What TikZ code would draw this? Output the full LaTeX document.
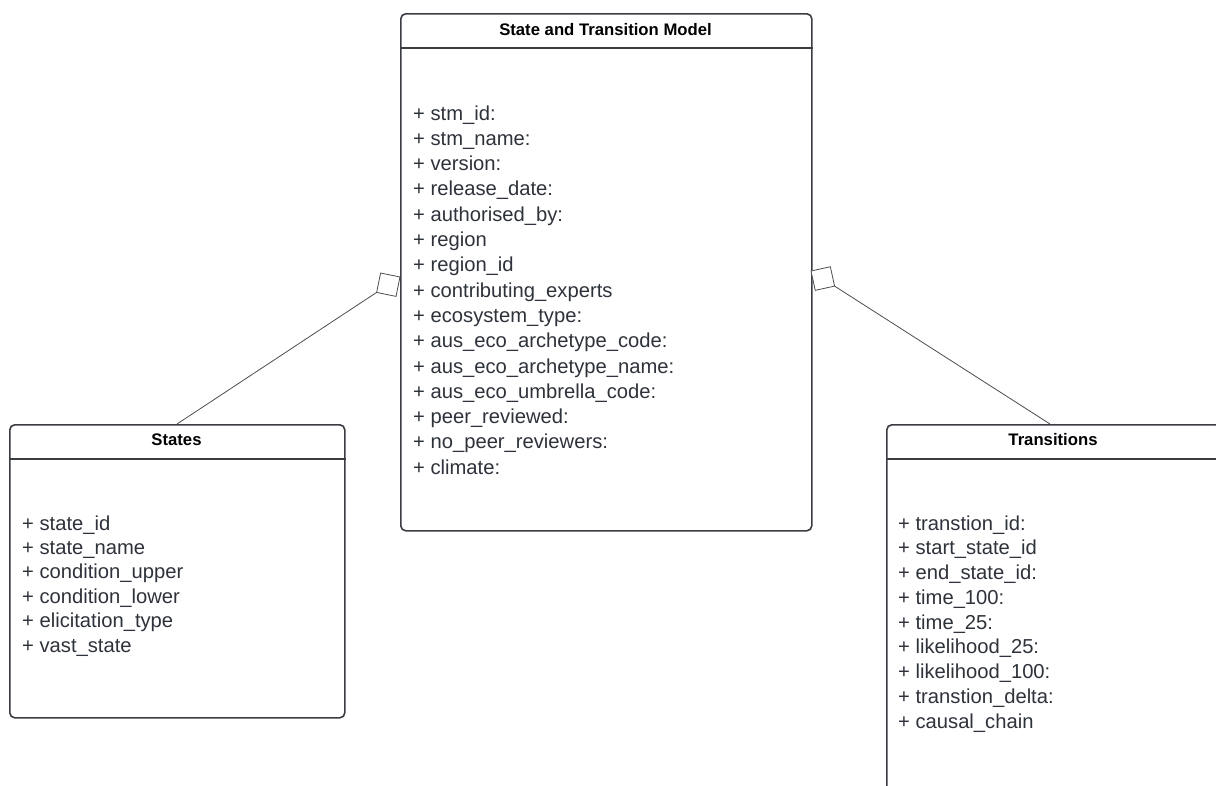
\documentclass[tikz,border=0pt]{standalone}
\usepackage{fontspec}
\setmainfont{Liberation Sans}
\usetikzlibrary{calc}
\definecolor{boxcol}{HTML}{3A3D42}
\definecolor{txtcol}{HTML}{2E323A}
\definecolor{linkcol}{HTML}{4A4D52}
\tikzset{
  classbox/.style={draw=boxcol, line width=1.6pt, rounded corners=5pt, fill=white, inner sep=0pt, anchor=north west},
  sepline/.style={draw=boxcol, line width=1.6pt},
  titletxt/.style={font=\fontsize{16.7}{20}\selectfont\bfseries, text=black, inner sep=0pt, anchor=base},
  attr/.style={font=\fontsize{20.2}{24}\selectfont, text=txtcol, inner sep=0pt, anchor=base west},
  link/.style={draw=linkcol, line width=0.8pt},
  aggr/.style={draw=linkcol, line width=0.8pt, fill=white, line join=miter}
}
\begin{document}
\begin{tikzpicture}[x=1pt,y=-1pt]
\useasboundingbox (0,0) rectangle (1216,785);
\fill[white] (0,0) rectangle (1216,785);
\clip (0,0) rectangle (1216,785);

% boxes
\node[classbox, minimum width=411pt, minimum height=517pt] (stm) at (400,13) {};
\node[classbox, minimum width=335pt, minimum height=293pt] (states) at (9,424) {};
\node[classbox, minimum width=334pt, minimum height=420pt] (trans) at (886,424) {};

% header separators
\draw[sepline] (stm.west |- 0,48) -- (stm.east |- 0,48);
\draw[sepline] (states.west |- 0,459) -- (states.east |- 0,459);
\draw[sepline] (trans.west |- 0,459) -- (trans.east |- 0,459);

% titles
\node[titletxt] (stmtitle) at (605.5,35) {State and Transition Model};
\node[titletxt] (sttitle) at (176.5,445) {States};
\node[titletxt] (trtitle) at (1053,445) {Transitions};

% attributes
\foreach \t [count=\i] in {stm\_id:, stm\_name:, version:, release\_date:, authorised\_by:, region, region\_id, contributing\_experts, ecosystem\_type:, aus\_eco\_archetype\_code:, aus\_eco\_archetype\_name:, aus\_eco\_umbrella\_code:, peer\_reviewed:, no\_peer\_reviewers:, climate:}
  \node[attr] (m\i) at (413,{120+(\i-1)*25.3}) {+ \t};

\foreach \t [count=\i] in {state\_id, state\_name, condition\_upper, condition\_lower, elicitation\_type, vast\_state}
  \node[attr] (s\i) at (22,{530+(\i-1)*24.4}) {+ \t};

\foreach \t [count=\i] in {transtion\_id:, start\_state\_id, end\_state\_id:, time\_100:, time\_25:, likelihood\_25:, likelihood\_100:, transtion\_delta:, causal\_chain}
  \node[attr] (t\i) at (898,{530+(\i-1)*24.75}) {+ \t};

% connectors with open aggregation diamonds
\coordinate (ltip) at (400,277);
\coordinate (lend) at (177,424);
\coordinate (lfar) at ($(ltip)!28pt!(lend)$);
\coordinate (lmid) at ($(ltip)!14pt!(lend)$);
\coordinate (lsa) at ($(lmid)!14pt!90:(ltip)$);
\coordinate (lsb) at ($(lmid)!14pt!-90:(ltip)$);
\draw[link] (lfar) -- (lend);
\draw[aggr] (ltip) -- (lsa) -- (lfar) -- (lsb) -- cycle;

\coordinate (rtip) at (811,271);
\coordinate (rend) at (1050,424);
\coordinate (rfar) at ($(rtip)!28pt!(rend)$);
\coordinate (rmid) at ($(rtip)!14pt!(rend)$);
\coordinate (rsa) at ($(rmid)!14pt!90:(rtip)$);
\coordinate (rsb) at ($(rmid)!14pt!-90:(rtip)$);
\draw[link] (rfar) -- (rend);
\draw[aggr] (rtip) -- (rsa) -- (rfar) -- (rsb) -- cycle;
\end{tikzpicture}
\end{document}
